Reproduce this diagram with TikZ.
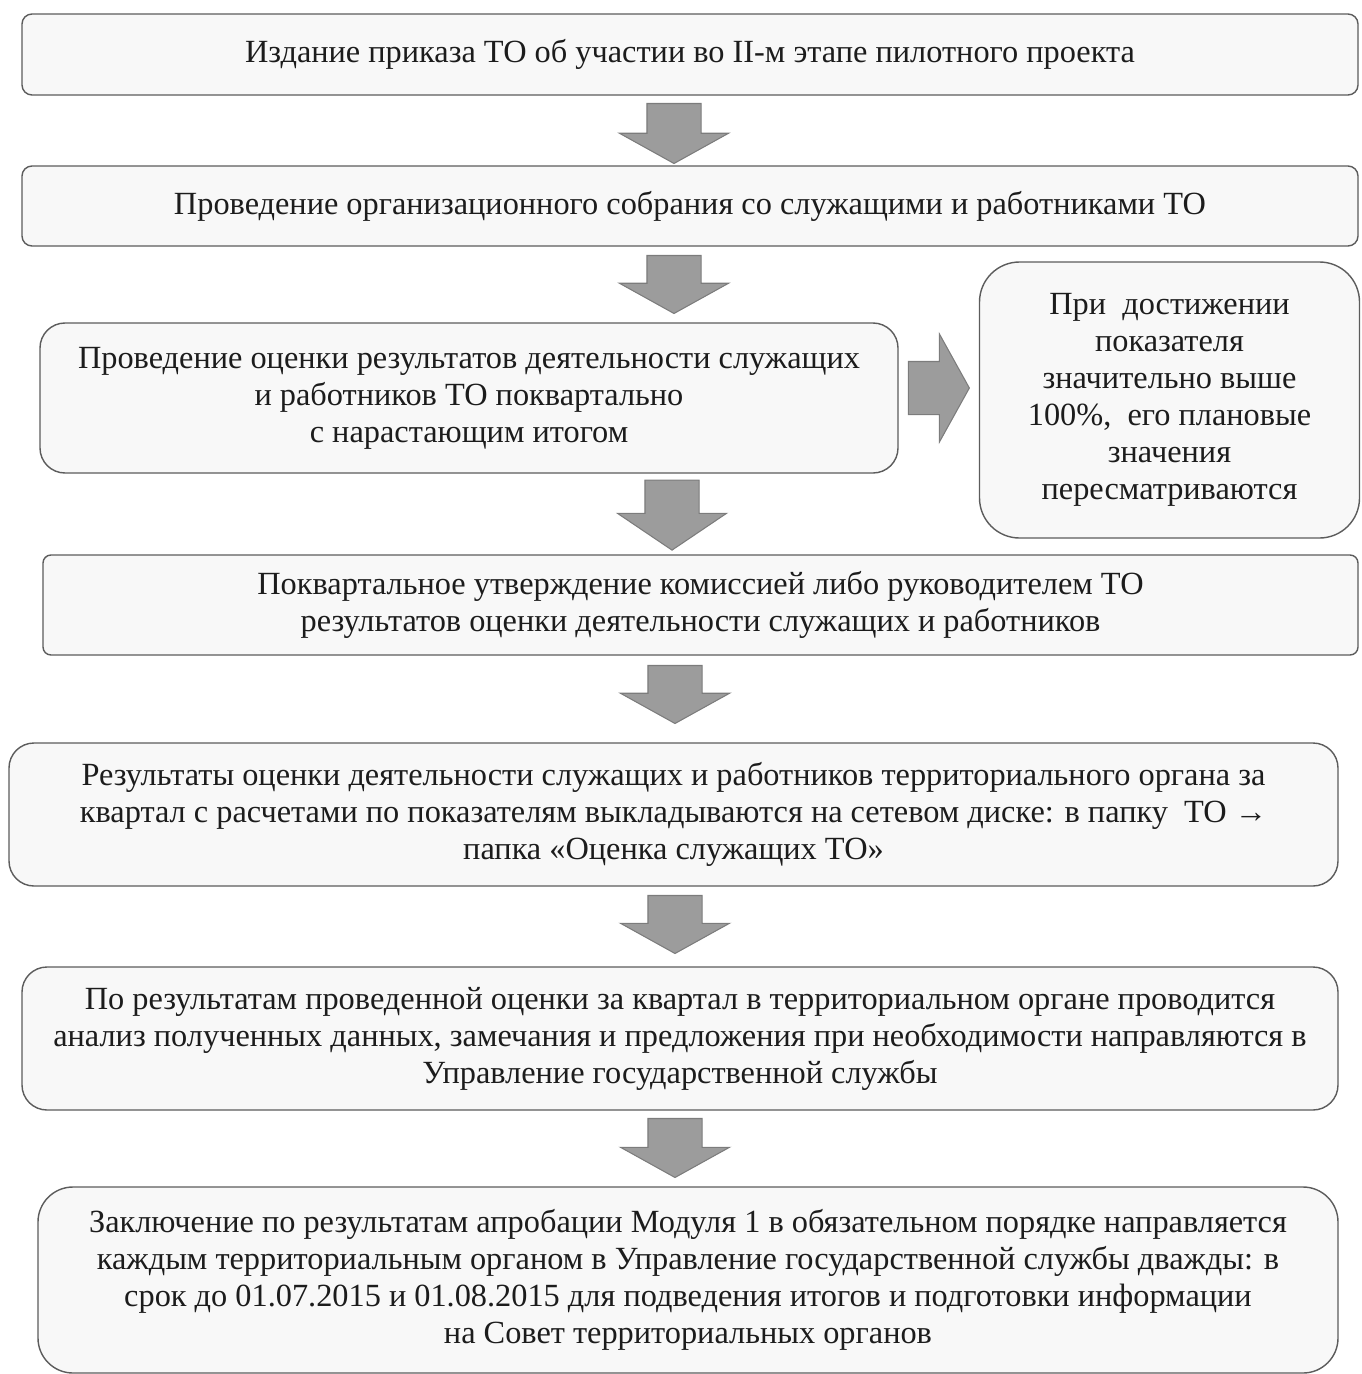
\documentclass[tikz,border=0pt]{standalone}
\usepackage{fontspec}
\setmainfont{Liberation Serif}
\usepackage{tikz}
\usetikzlibrary{positioning,shapes.arrows}
\definecolor{edge1}{HTML}{5C5C5C}
\definecolor{fill1}{HTML}{F8F8F8}
\definecolor{arrow1}{HTML}{9C9C9C}
\definecolor{arrowedge1}{HTML}{7C7C7C}
\definecolor{text1}{HTML}{1C1C1C}

\begin{document}
\begin{tikzpicture}[
    stage/.style={draw=edge1, fill=fill1, line width=0.8pt, text=text1,
                  align=center, inner sep=0pt,
                  font=\fontsize{18.4}{21.06}\selectfont},
    blk/.style={single arrow, draw=arrowedge1, fill=arrow1, line width=0.6pt,
                single arrow tip angle=122, inner xsep=0pt, inner ysep=0.53cm,
                single arrow head extend=0.55cm, minimum height=1.2cm},
]
\useasboundingbox (0,0) rectangle (27.22,-27.48);

% stages, top to bottom
\node[stage, rounded corners=0.2cm, minimum width=26.72cm, minimum height=1.62cm]
    (order) at (13.80,-1.09)
    {Издание приказа ТО об участии во II-м этапе пилотного проекта};
\node[stage, rounded corners=0.2cm, minimum width=26.72cm, minimum height=1.60cm]
    (meeting) at (13.80,-4.12)
    {Проведение организационного собрания со служащими и работниками ТО};
\node[stage, rounded corners=0.5cm, minimum width=17.16cm, minimum height=3.00cm]
    (assess) at (9.38,-7.96)
    {Проведение оценки результатов деятельности служащих\\
     и работников ТО поквартально\\ с нарастающим итогом};
\node[stage, rounded corners=0.8cm, minimum width=7.60cm, minimum height=5.52cm]
    (revise) at (23.39,-8.00)
    {При~ достижении\\ показателя\\ значительно выше\\
     100\%,~ его плановые\\ значения\\ пересматриваются};
\node[stage, rounded corners=0.16cm, minimum width=26.30cm, minimum height=2.00cm]
    (approve) at (14.01,-12.10)
    {Поквартальное утверждение комиссией либо руководителем ТО\\
     результатов оценки деятельности служащих и работников};
\node[stage, rounded corners=0.5cm, minimum width=26.58cm, minimum height=2.86cm]
    (publish) at (13.47,-16.29)
    {Результаты оценки деятельности служащих и работников территориального органа за\\
     квартал с расчетами по показателям выкладываются на сетевом диске: в папку~ ТО →\\
     папка «Оценка служащих ТО»};
\node[stage, rounded corners=0.5cm, minimum width=26.32cm, minimum height=2.86cm]
    (analysis) at (13.60,-20.77)
    {По результатам проведенной оценки за квартал в территориальном органе проводится\\
     анализ полученных данных, замечания и предложения при необходимости направляются в\\
     Управление государственной службы};
\node[stage, rounded corners=0.7cm, minimum width=26.00cm, minimum height=3.72cm]
    (report) at (13.76,-25.60)
    {Заключение по результатам апробации Модуля 1 в обязательном порядке направляется\\
     каждым территориальным органом в Управление государственной службы дважды: в\\
     срок до 01.07.2015 и 01.08.2015 для подведения итогов и подготовки информации\\
     на Совет территориальных органов};

% block arrows
\node[blk, rotate=-90] (a1) at (13.48,-2.52) {};
\node[blk, rotate=-90, minimum height=1.16cm] (a2) at (13.48,-5.54) {};
\node[blk, rotate=-90, minimum height=1.40cm, single arrow tip angle=112]
    (a3) at (13.44,-10.12) {};
\node[blk, rotate=-90, minimum height=1.16cm] (a4) at (13.50,-13.74) {};
\node[blk, rotate=-90, minimum height=1.16cm] (a5) at (13.50,-18.34) {};
\node[blk, rotate=-90, minimum height=1.18cm] (a6) at (13.50,-22.81) {};
\node[blk, minimum height=1.22cm, inner ysep=0.52cm] (aside) at (18.63,-7.76) {};
\end{tikzpicture}
\end{document}
